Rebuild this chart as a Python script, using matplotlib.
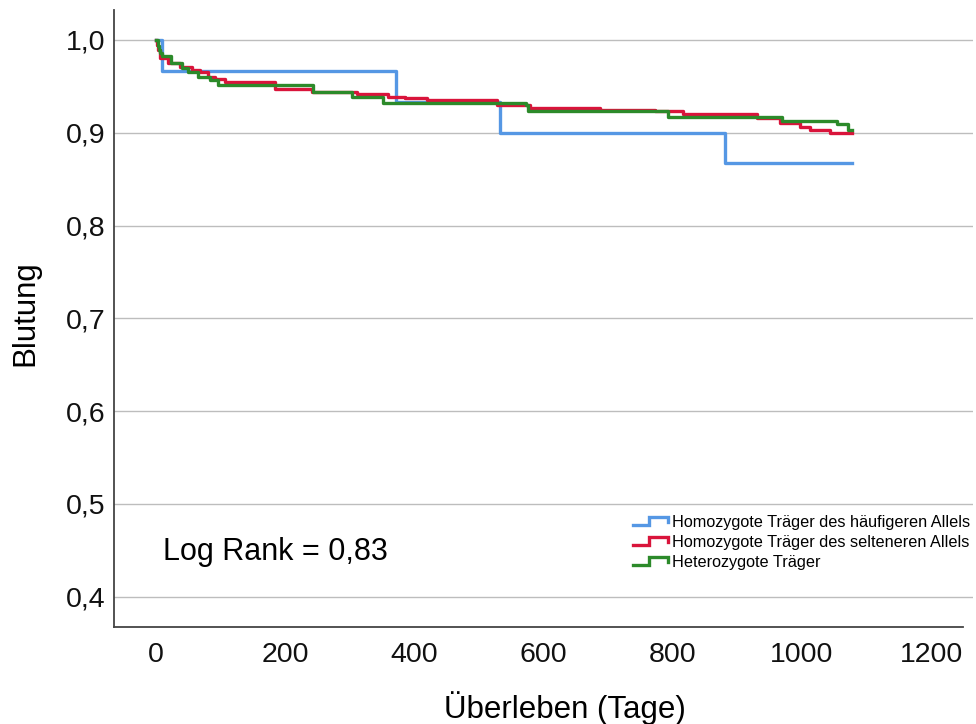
import matplotlib
matplotlib.use("Agg")
import matplotlib.pyplot as plt
from matplotlib.lines import Line2D
from matplotlib.legend_handler import HandlerBase

plt.rcParams['font.family'] = ['Liberation Sans', 'DejaVu Sans']

# Data
blue_days = [0, 8.8, 371, 532, 881, 1077]
blue_surv = [1.0, 0.967, 0.933, 0.900, 0.867, 0.867]

red_days = [0, 1.5, 3.1, 6.2, 18.6, 37.2, 55.7, 68.1, 80.5, 91.3, 106.8, 184.2, 241.5,
            311.1, 359.1, 385.4, 419.5, 527.9, 578.9, 687.3, 772.4, 815.8, 930.3, 965.9,
            996.9, 1012.4, 1043.3, 1077.4]
red_surv = [1.0, 0.995, 0.989, 0.981, 0.975, 0.971, 0.968, 0.965, 0.960, 0.958, 0.955,
            0.947, 0.944, 0.942, 0.939, 0.937, 0.935, 0.930, 0.927, 0.925, 0.923, 0.920,
            0.916, 0.911, 0.906, 0.903, 0.900, 0.900]

green_days = [0, 3.1, 4.6, 6.2, 9.3, 23.2, 40.2, 49.5, 65.0, 83.6, 96.0, 243.0, 303.4,
              351.4, 572.8, 575.9, 792.6, 969.0, 1054.2, 1071.2, 1077.4]
green_surv = [1.0, 0.994, 0.989, 0.986, 0.983, 0.975, 0.970, 0.965, 0.960, 0.957, 0.952,
              0.944, 0.938, 0.932, 0.930, 0.923, 0.917, 0.913, 0.909, 0.903, 0.903]

labels = ["Homozygote Träger des häufigeren Allels",
          "Homozygote Träger des selteneren Allels",
          "Heterozygote Träger"]
colors = ['#5597E4', '#D9143B', '#2C8A2A']

yticks = [0.4, 0.5, 0.6, 0.7, 0.8, 0.9, 1.0]
ytick_labels = ['0,4', '0,5', '0,6', '0,7', '0,8', '0,9', '1,0']
xticks = [0, 200, 400, 600, 800, 1000, 1200]


class StepHandler(HandlerBase):
    def create_artists(self, legend, orig_handle, xdescent, ydescent, width, height, fontsize, trans):
        x0 = -xdescent
        y0 = -ydescent
        xs = [x0, x0 + width * 0.45, x0 + width * 0.45, x0 + width, x0 + width]
        ys = [y0 + height * 0.15, y0 + height * 0.15, y0 + height * 0.85, y0 + height * 0.85, y0 + height * 0.4]
        ln = Line2D(xs, ys, color=orig_handle.get_color(), lw=orig_handle.get_linewidth(),
                    solid_joinstyle='miter')
        ln.set_transform(trans)
        return [ln]


W, H = 976, 724
L, R, T, B = 114, 973, 10, 627
fig = plt.figure(figsize=(W / 100, H / 100), dpi=100)
ax = fig.add_axes([L / W, 1 - B / H, (R - L) / W, (B - T) / H])

handles = []
for d, s, c, lab in [(blue_days, blue_surv, colors[0], labels[0]),
                     (red_days, red_surv, colors[1], labels[1]),
                     (green_days, green_surv, colors[2], labels[2])]:
    h, = ax.step(d, s, where='post', color=c, lw=2.4, label=lab, zorder=3)
    handles.append(h)

xmin, xmax = -65, 1265
ax.set_xlim(xmin, xmax)
ax.set_ylim(0.3673, 1.0323)
ax.set_yticks(yticks)
ax.set_yticklabels(ytick_labels)
ax.set_xticks(xticks)
ax.tick_params(axis='both', length=0, labelsize=20.5, colors='#111111')
ax.tick_params(axis='x', pad=11)
ax.tick_params(axis='y', pad=6)
ax.grid(axis='y', color='#BDBDBD', lw=1.0, zorder=0)
ax.set_axisbelow(True)
for side in ['top', 'right']:
    ax.spines[side].set_visible(False)
for side in ['left', 'bottom']:
    ax.spines[side].set_color('#444444')
    ax.spines[side].set_linewidth(1.3)
ax.spines['bottom'].set_bounds(xmin, 1249)

ax.set_xlabel('Überleben (Tage)', fontsize=22.5)
ax.set_ylabel('Blutung', fontsize=22.5)
ax.xaxis.set_label_coords((565 - L) / (R - L), -(708 - B) / (B - T), transform=ax.transAxes)
ax.yaxis.set_label_coords(-(L - 25) / (R - L), (B - 313) / (B - T), transform=ax.transAxes)
ax.xaxis.label.set_va('center')
ax.yaxis.label.set_va('center')

ax.text(10.8, 0.4484, 'Log Rank = 0,83', fontsize=22, ha='left', va='center')

leg = ax.legend(handles=handles, loc='upper left',
                bbox_to_anchor=((633 - L) / (R - L), (B - 515) / (B - T)),
                frameon=False, fontsize=11.7, handler_map={Line2D: StepHandler()},
                handlelength=2.15, handletextpad=0.25, labelspacing=0.3, borderaxespad=0.0,
                borderpad=0.0)

fig.savefig('out.png', dpi=100)
